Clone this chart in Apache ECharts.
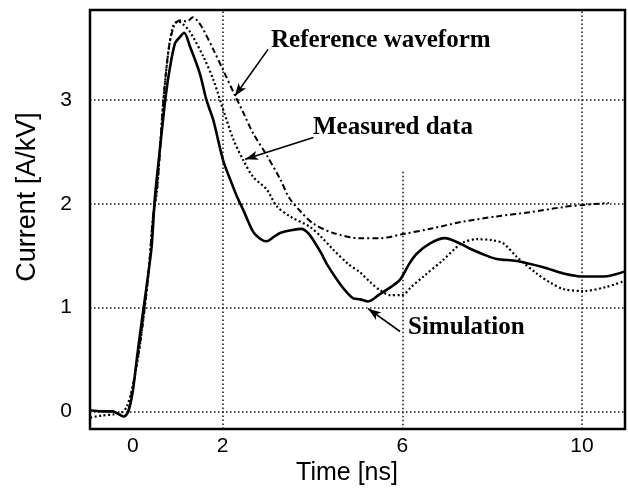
<!DOCTYPE html>
<html>
<head>
<meta charset="utf-8">
<script src="https://cdn.jsdelivr.net/npm/echarts@6/dist/echarts.min.js"></script>
<style>html,body{margin:0;padding:0;background:#fff}#c{width:628px;height:491px}</style>
</head>
<body>
<div id="c"></div>
<script>
// Tick labels
var xTickLabels = [0, 2, 6, 10];
var yTickLabels = [0, 1, 2, 3];
// Grid lines
var xGridFull = [2, 10];
var xGridPartial = [6];
var yGrid = [0, 1, 2, 3];

// Series: [time ns, current A/kV]
var simulation = [[-0.95,0.01],[-0.7,0.0],[-0.45,0.0],[-0.3,-0.03],[-0.2,-0.05],[-0.1,0.0],[0.0,0.2],[0.1,0.55],[0.23,0.97],[0.35,1.35],[0.42,1.6],[0.49,2.06],[0.6,2.52],[0.72,3.0],[0.82,3.3],[0.94,3.55],[1.05,3.61],[1.14,3.65],[1.27,3.52],[1.49,3.26],[1.64,3.0],[1.79,2.81],[2.01,2.42],[2.2,2.2],[2.31,2.08],[2.46,1.94],[2.68,1.73],[2.85,1.66],[2.98,1.64],[3.13,1.68],[3.28,1.72],[3.57,1.75],[3.76,1.76],[3.9,1.72],[4.02,1.65],[4.2,1.52],[4.32,1.42],[4.61,1.23],[4.8,1.13],[4.91,1.09],[5.06,1.08],[5.24,1.06],[5.5,1.13],[5.75,1.2],[5.95,1.27],[6.15,1.42],[6.32,1.52],[6.62,1.62],[6.95,1.67],[7.28,1.62],[7.5,1.57],[7.77,1.52],[8.1,1.47],[8.55,1.45],[9.14,1.39],[9.59,1.33],[10.03,1.3],[10.48,1.3],[10.96,1.35]];
var measured = [[-0.95,-0.06],[-0.7,-0.04],[-0.44,-0.03],[-0.25,-0.01],[-0.14,0.04],[0.0,0.25],[0.16,0.65],[0.34,1.3],[0.45,1.88],[0.53,2.1],[0.6,2.5],[0.68,3.0],[0.8,3.5],[0.9,3.72],[1.0,3.76],[1.1,3.74],[1.27,3.66],[1.57,3.42],[1.79,3.2],[2.01,2.91],[2.24,2.62],[2.46,2.42],[2.68,2.26],[2.98,2.14],[3.2,1.98],[3.5,1.88],[3.94,1.78],[4.2,1.68],[4.46,1.56],[4.8,1.42],[5.06,1.34],[5.3,1.24],[5.5,1.17],[5.73,1.12],[5.99,1.12],[6.2,1.2],[6.47,1.3],[6.91,1.46],[7.15,1.56],[7.36,1.63],[7.66,1.66],[8.0,1.65],[8.25,1.62],[8.55,1.49],[8.99,1.33],[9.3,1.24],[9.59,1.18],[10.03,1.16],[10.55,1.2],[10.96,1.26]];
var reference = [[-0.1,0.0],[0.0,0.25],[0.16,0.65],[0.34,1.3],[0.45,1.88],[0.55,2.2],[0.68,3.0],[0.8,3.5],[0.92,3.72],[1.05,3.77],[1.2,3.76],[1.34,3.8],[1.45,3.76],[1.57,3.68],[1.79,3.49],[2.01,3.29],[2.27,3.05],[2.46,2.88],[2.68,2.68],[2.98,2.47],[3.28,2.24],[3.48,2.06],[3.75,1.92],[4.02,1.81],[4.46,1.72],[5.06,1.67],[5.5,1.67],[6.02,1.71],[6.62,1.76],[7.36,1.83],[8.1,1.88],[8.84,1.92],[9.59,1.97],[10.03,1.99],[10.6,2.01]];

var X_MIN = -0.955, X_MAX = 10.96, Y_MIN = -0.17, Y_MAX = 3.87;

var gridLineStyle = { color: '#111', width: 1.5, type: [1.5, 2.5] };
var gridMarks = [];
xGridFull.forEach(function (v) { gridMarks.push({ xAxis: v }); });
yGrid.forEach(function (v) { gridMarks.push({ yAxis: v }); });
xGridPartial.forEach(function (v) { gridMarks.push([{ coord: [v, 2.31] }, { coord: [v, Y_MIN] }]); });

var chart = echarts.init(document.getElementById('c'), null, { renderer: 'canvas' });
chart.setOption({
  animation: false,
  backgroundColor: '#fff',
  grid: { left: 90, right: 3, top: 10, bottom: 62, show: true, borderColor: '#000', borderWidth: 2.5, backgroundColor: 'transparent' },
  xAxis: {
    type: 'value', min: X_MIN, max: X_MAX,
    axisLine: { show: false }, axisTick: { show: false }, splitLine: { show: false },
    axisLabel: { customValues: xTickLabels, color: '#000', fontSize: 21, fontFamily: 'Liberation Sans', margin: 7 }
  },
  yAxis: {
    type: 'value', min: Y_MIN, max: Y_MAX,
    axisLine: { show: false }, axisTick: { show: false }, splitLine: { show: false },
    axisLabel: { customValues: yTickLabels, color: '#000', fontSize: 21, fontFamily: 'Liberation Sans', margin: 18 }
  },
  series: [
    {
      name: 'grid', type: 'line', data: [], z: 1, silent: true,
      markLine: { silent: true, symbol: ['none', 'none'], label: { show: false }, lineStyle: gridLineStyle, data: gridMarks }
    },
    {
      name: 'Reference waveform', type: 'line', data: reference, showSymbol: false, smooth: 0.3, z: 3,
      lineStyle: { color: '#000', width: 2, type: [6, 3, 2, 3] }
    },
    {
      name: 'Measured data', type: 'line', data: measured, showSymbol: false, smooth: 0.3, z: 3,
      lineStyle: { color: '#000', width: 2.2, type: [2, 2.5] }
    },
    {
      name: 'Simulation', type: 'line', data: simulation, showSymbol: false, smooth: 0.3, z: 4,
      lineStyle: { color: '#000', width: 2.6 },
      markLine: {
        silent: true, symbol: ['none', 'arrow'], symbolSize: [7, 13], label: { show: false },
        lineStyle: { color: '#000', width: 1.6, type: 'solid' },
        data: [
          [{ coord: [3.01, 3.49] }, { coord: [2.27, 3.04] }],
          [{ coord: [4.02, 2.64] }, { coord: [2.50, 2.43] }],
          [{ coord: [5.95, 0.77] }, { coord: [5.24, 0.99] }]
        ]
      }
    }
  ],
  graphic: [
    { type: 'text', x: 271, y: 41, style: { text: 'Reference waveform', font: 'bold 25px "Liberation Serif"', fill: '#000', textVerticalAlign: 'middle' } },
    { type: 'text', x: 313, y: 128, style: { text: 'Measured data', font: 'bold 25px "Liberation Serif"', fill: '#000', textVerticalAlign: 'middle' } },
    { type: 'text', x: 408, y: 328, style: { text: 'Simulation', font: 'bold 25px "Liberation Serif"', fill: '#000', textVerticalAlign: 'middle' } },
    { type: 'text', x: 347, y: 473, style: { text: 'Time [ns]', font: '25px "Liberation Sans"', fill: '#000', textAlign: 'center', textVerticalAlign: 'middle' } },
    { type: 'text', x: 28, y: 197, rotation: Math.PI / 2, style: { text: 'Current [A/kV]', font: '27px "Liberation Sans"', fill: '#000', textAlign: 'center', textVerticalAlign: 'middle' } }
  ]
});
</script>
</body>
</html>
